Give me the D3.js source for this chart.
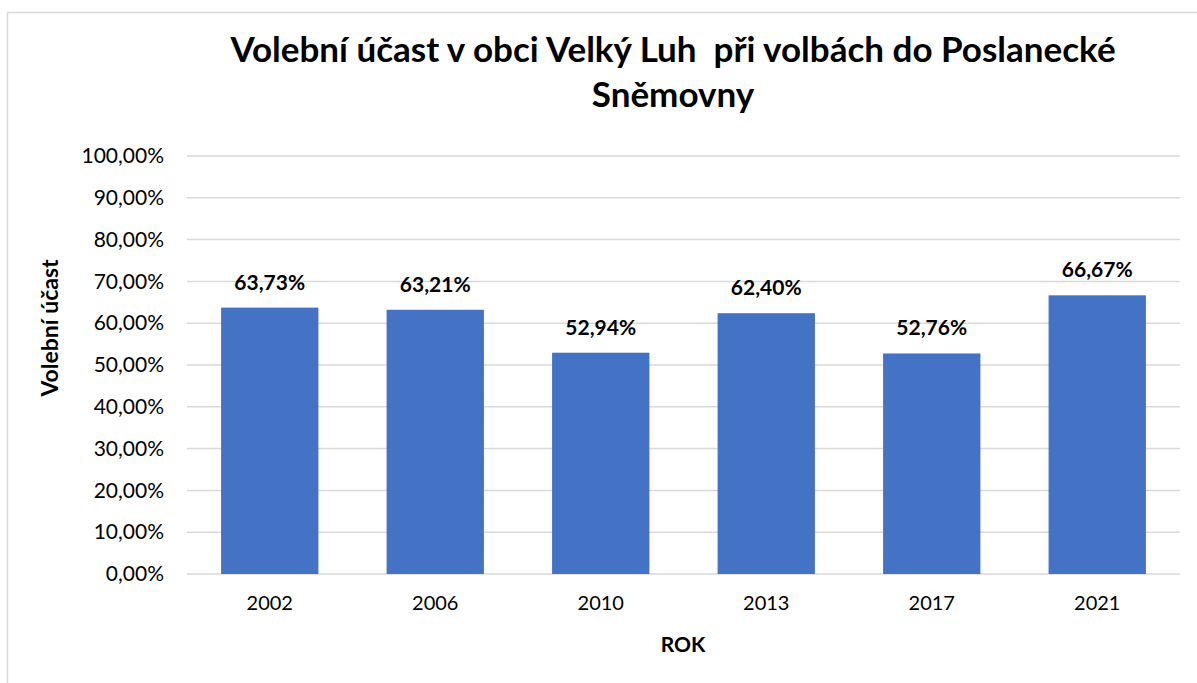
<!DOCTYPE html>
<html>
<head>
<meta charset="utf-8">
<script src="https://cdn.jsdelivr.net/npm/d3@7"></script>
<style>
  body { margin: 0; background: #fff; }
  svg { display: block; font-family: Lato, "Open Sans", sans-serif; }
</style>
</head>
<body>
<svg id="chart" width="1197" height="683"></svg>
<script>
// data
const years = ["2002", "2006", "2010", "2013", "2017", "2021"]
const turnout = [63.73, 63.21, 52.94, 62.40, 52.76, 66.67]
const yTicks = [0, 10, 20, 30, 40, 50, 60, 70, 80, 90, 100]
const titleLines = ["Volební účast v obci Velký Luh  při volbách do Poslanecké", "Sněmovny"]

const width = 1197, height = 683
const margin = {top: 156, right: 17, bottom: 109, left: 187}

const svg = d3.select("#chart")

// chart frame
svg.append("rect")
  .attr("x", 7.5).attr("y", 12.5)
  .attr("width", width + 20).attr("height", height + 20)
  .attr("fill", "none")
  .attr("stroke", "#d9d9d9")
  .attr("stroke-width", 1.5)

const x = d3.scaleBand()
  .domain(years)
  .range([margin.left, width - margin.right])
  .paddingInner(0.412)
  .paddingOuter(0.206)

const y = d3.scaleLinear()
  .domain([0, 100])
  .range([height - margin.bottom, margin.top])

const fmt = v => v.toFixed(2).replace(".", ",") + "%"

// gridlines
svg.append("g")
  .selectAll("line")
  .data(yTicks)
  .join("line")
    .attr("x1", margin.left)
    .attr("x2", width - margin.right)
    .attr("y1", d => y(d))
    .attr("y2", d => y(d))
    .attr("stroke", "#d9d9d9")
    .attr("stroke-width", 1.5)

// y axis labels
const yAxis = g => g
  .attr("transform", `translate(${margin.left - 20},0)`)
  .call(d3.axisLeft(y).tickValues(yTicks).tickSize(0).tickFormat(fmt))
  .call(g => g.select(".domain").remove())
  .call(g => g.selectAll("text")
    .attr("font-family", "Lato, 'Open Sans', sans-serif")
    .attr("font-size", 21)
    .attr("fill", "#000"))

svg.append("g").call(yAxis)

// bars
svg.append("g")
  .selectAll("rect")
  .data(turnout)
  .join("rect")
    .attr("x", (d, i) => x(years[i]))
    .attr("width", x.bandwidth())
    .attr("y", d => y(d))
    .attr("height", d => y(0) - y(d))
    .attr("fill", "#4472c4")

// value labels
svg.append("g")
  .selectAll("text")
  .data(turnout)
  .join("text")
    .attr("x", (d, i) => x(years[i]) + x.bandwidth() / 2)
    .attr("y", d => y(d) - 18)
    .attr("text-anchor", "middle")
    .attr("font-weight", "bold")
    .attr("font-size", 21)
    .text(d => d.toFixed(2).replace(".", ",") + "%")

// x axis labels
const xAxis = g => g
  .attr("transform", `translate(0,${height - margin.bottom})`)
  .call(d3.axisBottom(x).tickSize(0).tickPadding(22))
  .call(g => g.select(".domain").remove())
  .call(g => g.selectAll("text")
    .attr("font-family", "Lato, 'Open Sans', sans-serif")
    .attr("font-size", 20)
    .attr("fill", "#000"))

svg.append("g").call(xAxis)

// axis titles
svg.append("text")
  .attr("x", 683).attr("y", 652)
  .attr("text-anchor", "middle")
  .attr("font-weight", "bold")
  .attr("font-size", 21)
  .text("ROK")

svg.append("text")
  .attr("transform", "translate(58,328) rotate(-90)")
  .attr("text-anchor", "middle")
  .attr("font-weight", "bold")
  .attr("font-size", 23)
  .text("Volební účast")

// title
svg.append("text")
  .attr("text-anchor", "middle")
  .attr("font-weight", "bold")
  .attr("font-size", 35)
  .style("white-space", "pre")
  .selectAll("tspan")
  .data(titleLines)
  .join("tspan")
    .attr("x", 673)
    .attr("y", (d, i) => 62 + i * 45)
    .text(d => d)
</script>
</body>
</html>
